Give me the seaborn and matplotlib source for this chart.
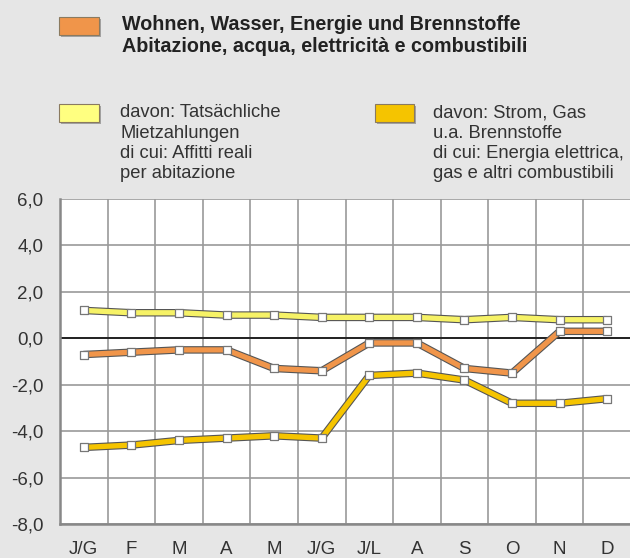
import matplotlib
matplotlib.use("Agg")
import matplotlib.pyplot as plt
import matplotlib.patheffects as pe
from matplotlib.patches import Rectangle
import seaborn as sns
import pandas as pd

months = ["J/G", "F", "M", "A", "M", "J/G", "J/L", "A", "S", "O", "N", "D"]
wohnen = [-0.7, -0.6, -0.5, -0.5, -1.3, -1.4, -0.2, -0.2, -1.3, -1.5, 0.3, 0.3]
mieten = [1.2, 1.1, 1.1, 1.0, 1.0, 0.9, 0.9, 0.9, 0.8, 0.9, 0.8, 0.8]
strom = [-4.7, -4.6, -4.4, -4.3, -4.2, -4.3, -1.6, -1.5, -1.8, -2.8, -2.8, -2.6]
yticks = [6, 4, 2, 0, -2, -4, -6, -8]
ytick_labels = ["6,0", "4,0", "2,0", "0,0", "-2,0", "-4,0", "-6,0", "-8,0"]

title_lines = ["Wohnen, Wasser, Energie und Brennstoffe",
               "Abitazione, acqua, elettricità e combustibili"]
leg_yellow = ["davon: Tatsächliche", "Mietzahlungen", "di cui: Affitti reali", "per abitazione"]
leg_gold = ["davon: Strom, Gas", "u.a. Brennstoffe", "di cui: Energia elettrica,", "gas e altri combustibili"]

c_orange = "#F0954A"
c_yellow = "#F6F266"
c_yellow_patch = "#FFFF80"
c_gold = "#F5C400"
bg = "#E6E6E6"
txt = "#333333"

sns.set_theme(style="white")
plt.rcParams["font.family"] = ["Liberation Sans", "DejaVu Sans"]

W, H = 630, 558
fig = plt.figure(figsize=(W / 100, H / 100), dpi=100)
fig.patch.set_facecolor(bg)

ax_left, ax_right, ax_top, ax_bottom = 60, 631, 199, 524
ax = fig.add_axes([ax_left / W, 1 - ax_bottom / H, (ax_right - ax_left) / W, (ax_bottom - ax_top) / H])
ax.set_facecolor("white")

x = list(range(len(months)))
df = pd.DataFrame({"x": x, "wohnen": wohnen, "mieten": mieten, "strom": strom})

# grid
for xv in [i + 0.5 for i in range(-1, 12)]:
    ax.axvline(xv, color="#9A9A9A", lw=1.2, zorder=1)
for yv in yticks:
    ax.axhline(yv, color="#9A9A9A", lw=1.2, zorder=1)
ax.axhline(0, color="#222222", lw=1.4, zorder=2)

outline = [pe.Stroke(linewidth=5.4, foreground="#555555"), pe.Normal()]
for col, color in [("strom", c_gold), ("wohnen", c_orange), ("mieten", c_yellow)]:
    sns.lineplot(data=df, x="x", y=col, color=color, linewidth=3.8, ax=ax,
                 path_effects=outline, zorder=3, sort=False)
    sns.scatterplot(data=df, x="x", y=col, marker="s", s=32, color="white",
                    edgecolor="#777777", linewidth=0.9, ax=ax, zorder=4)

ax.set_xlim(-0.5, 11.5)
ax.set_ylim(-8, 6)
ax.set_xticks(x)
ax.set_xticklabels(months)
ax.set_yticks(yticks)
ax.set_yticklabels(ytick_labels)
ax.set_xlabel("")
ax.set_ylabel("")
ax.tick_params(axis="both", length=0, labelsize=13.5, labelcolor=txt)
ax.tick_params(axis="x", pad=12)
ax.tick_params(axis="y", pad=12)
for s in ["top", "right"]:
    ax.spines[s].set_visible(False)
for s in ["left", "bottom"]:
    ax.spines[s].set_color("#888888")
    ax.spines[s].set_linewidth(1.8)
    ax.spines[s].set_zorder(5)


def patch(x0, y0, x1, y1, color):
    r = Rectangle((x0 / W, 1 - y1 / H), (x1 - x0) / W, (y1 - y0) / H,
                  transform=fig.transFigure, facecolor=color, edgecolor="#8A7A60",
                  linewidth=0.8,
                  path_effects=[pe.SimplePatchShadow(offset=(1.5, -1.5), shadow_rgbFace="#777777", alpha=0.6),
                                pe.Normal()])
    fig.add_artist(r)


patch(59, 17, 99, 35, c_orange)
patch(59, 104, 99, 122, c_yellow_patch)
patch(375, 104, 414, 122, c_gold)

for i, line in enumerate(title_lines):
    fig.text(122 / W, 1 - (30 + 21.5 * i) / H, line, fontsize=14.2, fontweight="bold",
             color="#222222", va="baseline", ha="left")

for i, (a, b) in enumerate(zip(leg_yellow, leg_gold)):
    yb = 1 - (117 + 20.5 * i) / H
    fig.text(120 / W, yb, a, fontsize=13.2, color=txt, va="baseline", ha="left")
    fig.text(433 / W, yb, b, fontsize=13.2, color=txt, va="baseline", ha="left")

fig.savefig("out.png", dpi=100, facecolor=bg)
